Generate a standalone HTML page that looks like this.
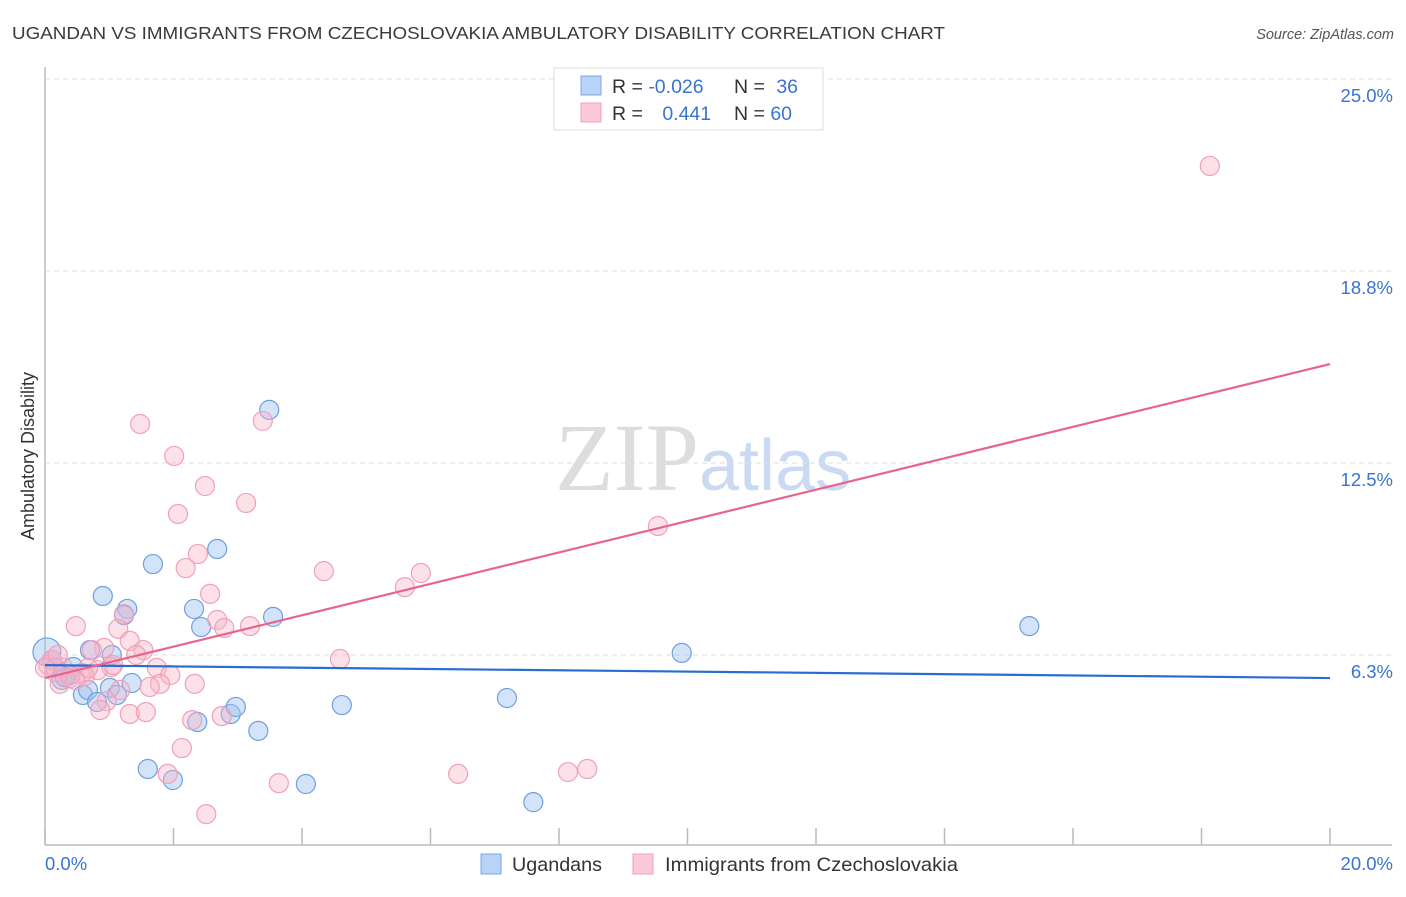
<!DOCTYPE html>
<html><head><meta charset="utf-8"><style>
body{margin:0;background:#fff;font-family:"Liberation Sans",sans-serif}
</style></head><body>
<svg id="c" width="1406" height="892" xmlns="http://www.w3.org/2000/svg" font-family="Liberation Sans, sans-serif">
<text x="12" y="39" font-size="17.5" fill="#3a3a3a" textLength="933" lengthAdjust="spacingAndGlyphs">UGANDAN VS IMMIGRANTS FROM CZECHOSLOVAKIA AMBULATORY DISABILITY CORRELATION CHART</text>
<text x="1394" y="39" font-size="14.5" fill="#555" font-style="italic" text-anchor="end">Source: ZipAtlas.com</text>
<text x="555" y="490" font-size="96" fill="#ddd" font-family="Liberation Serif, serif">ZIP<tspan fill="#c9daf2" font-family="Liberation Sans, sans-serif" font-size="72">atlas</tspan></text>
<g id="grid"></g>
<g id="axes"></g>
<g id="pts"></g>
<g id="trend"></g>
<text transform="translate(34,456) rotate(-90)" font-size="18" fill="#333" text-anchor="middle">Ambulatory Disability</text>
<g>
<rect x="554" y="68" width="269" height="62" fill="#fff" stroke="#ddd"/>
<rect x="581" y="76" width="20" height="19" fill="#b8d3f5" stroke="#7aa8e6"/>
<rect x="581" y="103" width="20" height="19" fill="#fcc9d8" stroke="#f0a0b8"/>
<text x="612" y="93" font-size="19.5" fill="#333">R = <tspan fill="#3a74d0">-0.026</tspan></text>
<text x="734" y="93" font-size="19.5" fill="#333">N = <tspan fill="#3a74d0" dx="6">36</tspan></text>
<text x="612" y="120" font-size="19.5" fill="#333">R = <tspan fill="#3a74d0" dx="14">0.441</tspan></text>
<text x="734" y="120" font-size="19.5" fill="#333">N = <tspan fill="#3a74d0">60</tspan></text>
</g>
<g>
<rect x="481" y="854" width="20" height="20" fill="#b8d3f5" stroke="#7aa8e6"/>
<text x="512" y="871" font-size="19.5" fill="#333" textLength="90" lengthAdjust="spacingAndGlyphs">Ugandans</text>
<rect x="633" y="854" width="20" height="20" fill="#fcc9d8" stroke="#f0a0b8"/>
<text x="665" y="871" font-size="19.5" fill="#333" textLength="293" lengthAdjust="spacingAndGlyphs">Immigrants from Czechoslovakia</text>
</g>
</svg>
<script>
const yTicks=[6.25,12.5,18.75,25];
const yTickLabels=["6.3%","12.5%","18.8%","25.0%"];
const xTickValues=[0,2,4,6,8,10,12,14,16,18,20];
const blueX=[0.03,0.11,0.16,0.26,0.44,0.39,0.59,0.67,0.81,0.90,1.01,1.04,1.12,1.28,1.23,1.35,1.60,1.68,1.99,2.32,2.37,2.43,2.68,2.89,2.97,3.32,3.49,3.55,4.06,4.62,7.19,7.60,9.91,15.32,0.70,0.31];
const blueY=[6.35,6.09,5.83,5.44,5.86,5.60,4.95,5.11,4.72,8.17,5.18,6.25,4.95,7.75,7.55,5.34,2.54,9.21,2.18,7.75,4.07,7.16,9.70,4.33,4.56,3.78,14.23,7.49,2.05,4.62,4.85,1.46,6.32,7.19,6.41,5.53];
const pinkX=[18.13,1.48,3.39,2.01,2.49,2.07,3.13,9.54,2.38,2.19,4.34,5.85,5.60,2.57,1.23,2.68,2.79,3.19,1.14,0.48,1.32,0.92,0.73,1.53,1.42,4.59,1.03,1.74,0.82,0.58,0.28,0.05,0.16,0.23,0.39,0.62,1.95,1.79,1.63,2.33,1.17,0.96,0.86,1.32,1.57,2.29,2.75,2.13,1.91,3.64,6.43,8.14,8.44,2.51,0.11,0.20,0.47,0.67,1.06,0];
const pinkY=[22.17,13.77,13.87,12.73,11.75,10.84,11.20,10.45,9.54,9.08,8.98,8.92,8.46,8.24,7.58,7.39,7.13,7.19,7.10,7.19,6.71,6.48,6.41,6.41,6.25,6.12,5.86,5.83,5.76,5.66,5.83,5.92,5.70,5.31,5.50,5.57,5.60,5.31,5.21,5.31,5.11,4.75,4.46,4.33,4.39,4.13,4.26,3.22,2.38,2.08,2.38,2.44,2.54,1.07,6.09,6.25,5.44,5.83,5.92,5.83];
const blueTrend=[5.92,5.50];
const pinkTrend=[5.50,15.72];
const NS="http://www.w3.org/2000/svg";
const X0=45,X1=1330,Y0=847,PX=192/6.25;
const sx=v=>X0+(X1-X0)*v/20, sy=v=>Y0-v*PX;
function mk(t,a,p){const e=document.createElementNS(NS,t);for(const k in a)e.setAttribute(k,a[k]);p.appendChild(e);return e;}
const grid=document.getElementById('grid'),axes=document.getElementById('axes'),pts=document.getElementById('pts'),tr=document.getElementById('trend');
yTicks.forEach((v,i)=>{
 const l=mk('line',{x1:X0,x2:1392,y1:sy(v),y2:sy(v),stroke:'#ddd','stroke-dasharray':'5,4'},grid);
 
 
 const t=mk('text',{x:1393,y:sy(v)+23,'font-size':18.5,fill:'#3a74d0','text-anchor':'end'},grid);
 t.textContent=yTickLabels[i];
 
 
});
const ya=mk('line',{x1:X0,x2:X0,y1:67,y2:845,stroke:'#bbb','stroke-width':1.5},axes);


const xa=mk('line',{x1:X0,x2:1392,y1:845,y2:845,stroke:'#bbb','stroke-width':1.5},axes);


xTickValues.forEach(v=>{
 const l=mk('line',{x1:sx(v),x2:sx(v),y1:828,y2:845,stroke:'#bbb','stroke-width':1.5},axes);
 
 
});
const xl0=mk('text',{x:45,y:870,'font-size':18.5,fill:'#3a74d0'},axes);xl0.textContent='0.0%';


const xl1=mk('text',{x:1393,y:870,'font-size':18.5,fill:'#3a74d0','text-anchor':'end'},axes);xl1.textContent='20.0%';


blueX.forEach((x,i)=>{
 const c=mk('circle',{cx:sx(x),cy:sy(blueY[i]),r:i===0?14:9.5,fill:'rgba(160,196,240,0.45)',stroke:'#6f9fe0','stroke-width':1.2},pts);
 
 
});
pinkX.forEach((x,i)=>{
 const c=mk('circle',{cx:sx(x),cy:sy(pinkY[i]),r:9.5,fill:'rgba(248,180,200,0.4)',stroke:'#f0a0b8','stroke-width':1.2},pts);
 
 
});
const bt=mk('line',{x1:sx(0),x2:sx(20),y1:sy(blueTrend[0]),y2:sy(blueTrend[1]),stroke:'#2a6dd2','stroke-width':2.2},tr);


const pt=mk('line',{x1:sx(0),x2:sx(20),y1:sy(pinkTrend[0]),y2:sy(pinkTrend[1]),stroke:'#e8648f','stroke-width':2.2},tr);


</script>
</body></html>
